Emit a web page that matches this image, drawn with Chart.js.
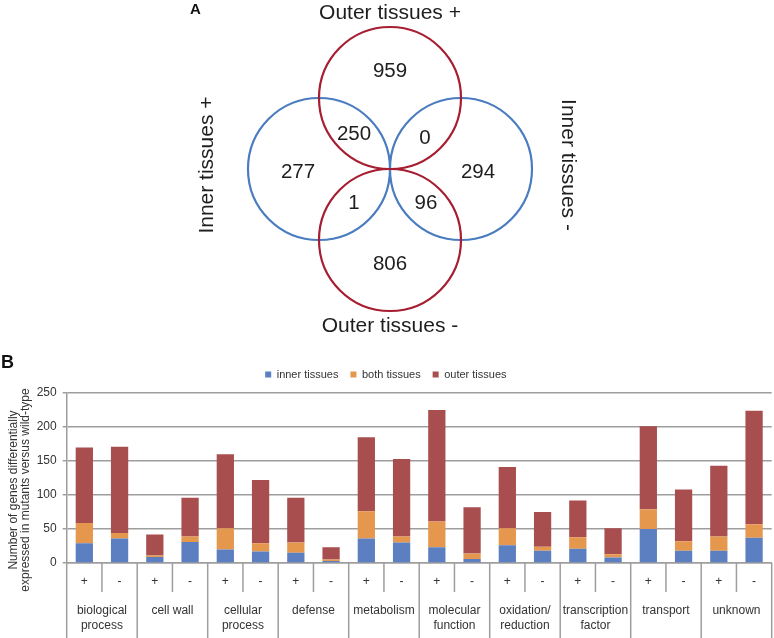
<!DOCTYPE html>
<html><head><meta charset="utf-8">
<script src="https://cdn.jsdelivr.net/npm/chart.js@4"></script>
<style>
html,body{margin:0;padding:0;background:#fff;width:774px;height:638px;overflow:hidden}
canvas{position:absolute;left:0}
#venn{top:0}
#bars{top:345px}
</style></head><body>
<canvas id="venn" width="774" height="345"></canvas>
<canvas id="bars" width="774" height="293"></canvas>
<script>
// ---------- Panel A data ----------
const vennSets = ['Outer tissues +', 'Inner tissues +', 'Inner tissues -', 'Outer tissues -'];
const vennCounts = [959, 250, 0, 277, 294, 1, 96, 806];

// ---------- Panel B data ----------
const groups = [['biological','process'],['cell wall'],['cellular','process'],['defense'],['metabolism'],
                ['molecular','function'],['oxidation/','reduction'],['transcription','factor'],['transport'],['unknown']];
const signs = ['+', '-'];
const seriesNames = ['inner tissues', 'both tissues', 'outer tissues'];
const innerTissues = [29,36, 9,31, 20,17, 15,3, 36,30, 23,6, 26,18, 21,8, 50,18, 18,37];
const bothTissues  = [30,8,  2,8,  31,12, 15,2, 40,9,  38,8, 25,6,  17,5, 29,14, 21,20];
const outerTissues = [111,127, 31,57, 109,93, 66,18, 109,114, 164,68, 90,51, 54,38, 122,76, 104,167];
const yTicks = [0, 50, 100, 150, 200, 250];
const yTitle = ['Number of genes differentially', 'expressed in mutants versus wild-type'];

// ---------- layout / style ----------
Chart.defaults.font.family = '"Liberation Sans", Arial, sans-serif';
const RED_C = '#a61e31', BLUE_C = '#4a7cc0';
const BLUE = '#5b7fc0', ORANGE = '#e6974e', RED = '#a94e4e';
const GRID = '#9e9e9e', TXT = '#333333';
// circle centres (pixel-space coordinates of the diagram) and order: blue first, red on top
const circleLayout = [{x:319,y:169,c:BLUE_C},{x:461,y:169,c:BLUE_C},{x:390,y:98,c:RED_C},{x:390,y:240,c:RED_C}];
const regionLayout = [[390,70],[354,133],[425,137],[298,171],[478,171],[354,202],[426,202],[390,263]];

const vennText = {
  id:'vennText',
  afterDraw(chart){
    const {ctx, scales:{x, y}} = chart;
    ctx.save();
    ctx.fillStyle = '#1e1e1e';
    ctx.textAlign = 'center';
    ctx.textBaseline = 'alphabetic';
    const fs = 20.5;
    ctx.font = fs + 'px "Liberation Sans", Arial, sans-serif';
    vennCounts.forEach((v, i) => {
      ctx.fillText(String(v), x.getPixelForValue(regionLayout[i][0]), y.getPixelForValue(regionLayout[i][1]) + fs*0.358);
    });
    ctx.font = '21px "Liberation Sans", Arial, sans-serif';
    ctx.fillText(vennSets[0], x.getPixelForValue(390), y.getPixelForValue(18.5));
    ctx.fillText(vennSets[3], x.getPixelForValue(390), y.getPixelForValue(331.5));
    ctx.save();
    ctx.translate(x.getPixelForValue(213), y.getPixelForValue(165));
    ctx.rotate(-Math.PI/2);
    ctx.fillText(vennSets[1], 0, 0);
    ctx.restore();
    ctx.save();
    ctx.translate(x.getPixelForValue(562), y.getPixelForValue(165));
    ctx.rotate(Math.PI/2);
    ctx.fillText(vennSets[2], 0, 0);
    ctx.restore();
    ctx.font = 'bold 15px "Liberation Sans", Arial, sans-serif';
    ctx.textAlign = 'left';
    ctx.fillStyle = '#111';
    ctx.fillText('A', 190, 14);
    ctx.restore();
  }
};

new Chart(document.getElementById('venn'), {
  type: 'scatter',
  data: { datasets: [{
    data: circleLayout.map(c => ({x: c.x, y: c.y})),
    pointRadius: 71, pointHoverRadius: 71, borderWidth: 2.2, pointBorderWidth: 2.2,
    pointBorderColor: circleLayout.map(c => c.c),
    pointBackgroundColor: 'rgba(0,0,0,0)', clip: false
  }]},
  options: {
    responsive: false, animation: false, events: [],
    layout: { padding: 0, autoPadding: false },
    scales: {
      x: { type: 'linear', min: 0, max: 774, display: false },
      y: { type: 'linear', min: 0, max: 345, reverse: true, display: false }
    },
    plugins: { legend: { display: false }, tooltip: { enabled: false } }
  },
  plugins: [vennText]
});

const xLabels = groups.flatMap(() => signs);

const legendSpacer = {
  id: 'legendSpacer',
  beforeInit(chart){
    const lg = chart.legend;
    if (!lg) return;
    const orig = lg.fit;
    lg.fit = function(){ orig.call(this); this.height += 3; };
  }
};

const barExtras = {
  id: 'barExtras',
  afterDraw(chart){
    const {ctx, chartArea, scales:{x}} = chart;
    const H = chart.height;
    const n = xLabels.length;
    const slot = (x.right - x.left) / n;
    ctx.save();
    ctx.strokeStyle = GRID;
    ctx.lineWidth = 1.5;
    for (let i = 0; i <= n; i++) {
      const px = x.left + i * slot;
      ctx.beginPath();
      ctx.moveTo(px, chartArea.bottom);
      ctx.lineTo(px, i % 2 === 0 ? H : chartArea.bottom + 29);
      ctx.stroke();
    }
    ctx.fillStyle = TXT;
    ctx.textAlign = 'center';
    ctx.textBaseline = 'middle';
    ctx.font = '12px "Liberation Sans", Arial, sans-serif';
    groups.forEach((g, gi) => {
      const cx = (x.getPixelForValue(2*gi) + x.getPixelForValue(2*gi+1)) / 2;
      g.forEach((line, li) => ctx.fillText(line, cx, 266 + li*14.3));
    });
    // y title
    ctx.save();
    ctx.font = '12px "Liberation Sans", Arial, sans-serif';
    ctx.textBaseline = 'alphabetic';
    ctx.translate(0, 145);
    ctx.rotate(-Math.PI/2);
    ctx.fillText(yTitle[0], 0, 16.5);
    ctx.fillText(yTitle[1], 0, 28.5);
    ctx.restore();
    ctx.font = 'bold 18px "Liberation Sans", Arial, sans-serif';
    ctx.textAlign = 'left';
    ctx.textBaseline = 'alphabetic';
    ctx.fillStyle = '#111';
    ctx.fillText('B', 1, 23);
    ctx.restore();
  }
};

new Chart(document.getElementById('bars'), {
  type: 'bar',
  data: {
    labels: xLabels,
    datasets: [
      { label: seriesNames[0], data: innerTissues, backgroundColor: BLUE },
      { label: seriesNames[1], data: bothTissues, backgroundColor: ORANGE },
      { label: seriesNames[2], data: outerTissues, backgroundColor: RED }
    ]
  },
  options: {
    responsive: false, animation: false, events: [],
    layout: { padding: { left: 0, right: 2.3, top: 12, bottom: 0 } },
    datasets: { bar: { categoryPercentage: 1, barPercentage: 0.49 } },
    scales: {
      x: {
        stacked: true,
        grid: { display: true, drawOnChartArea: false, drawTicks: false },
        border: { display: true, color: GRID, width: 1.5 },
        ticks: { color: TXT, font: { size: 12 }, padding: 11, maxRotation: 0, autoSkip: false },
        afterFit(s){ s.height = 75; }
      },
      y: {
        stacked: true, min: 0, max: 250,
        afterBuildTicks(s){ s.ticks = yTicks.map(v => ({ value: v })); },
        grid: { color: GRID, lineWidth: 1.5, tickLength: 4, drawTicks: true },
        border: { display: true, color: GRID, width: 1.5 },
        ticks: { color: TXT, font: { size: 12 }, padding: 6 },
        afterFit(s){ s.width = 66.7; }
      }
    },
    plugins: {
      legend: { position: 'top', labels: { boxWidth: 6, boxHeight: 6, font: { size: 11 }, color: TXT, padding: 12 } },
      tooltip: { enabled: false }
    }
  },
  plugins: [legendSpacer, barExtras]
});
</script>
</body></html>
